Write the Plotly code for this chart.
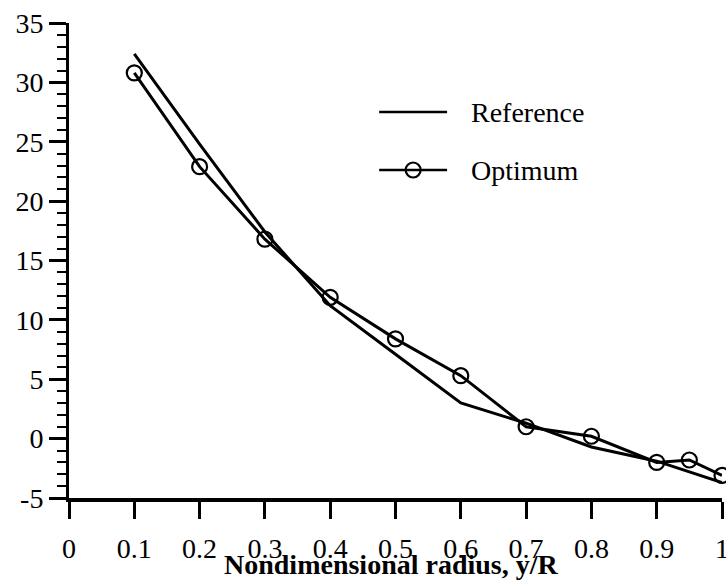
import plotly.graph_objects as go

# Data
x_reference = [0.1, 0.2, 0.3, 0.4, 0.5, 0.6, 0.7, 0.8, 0.9, 1.0]
y_reference = [32.4, 24.8, 17.4, 11.2, 7.1, 3.0, 1.3, -0.7, -1.9, -3.7]

x_optimum = [0.1, 0.2, 0.3, 0.4, 0.5, 0.6, 0.7, 0.8, 0.9, 0.95, 1.0]
y_optimum = [30.8, 22.9, 16.8, 11.9, 8.4, 5.3, 1.0, 0.2, -2.0, -1.8, -3.1]

x_ticks = [0, 0.1, 0.2, 0.3, 0.4, 0.5, 0.6, 0.7, 0.8, 0.9, 1.0]
x_tick_labels = ["0", "0.1", "0.2", "0.3", "0.4", "0.5", "0.6", "0.7", "0.8", "0.9", "1"]
y_ticks = [-5, 0, 5, 10, 15, 20, 25, 30, 35]
y_tick_labels = ["-5", "0", "5", "10", "15", "20", "25", "30", "35"]
x_title = "Nondimensional radius, y/R"

FONT = "Liberation Serif, Times New Roman, serif"

fig = go.Figure()
fig.add_trace(go.Scatter(
    x=x_reference, y=y_reference, mode="lines", name="Reference",
    line=dict(color="black", width=3), cliponaxis=False, showlegend=False))
fig.add_trace(go.Scatter(
    x=x_optimum, y=y_optimum, mode="lines+markers", name="Optimum",
    line=dict(color="black", width=3),
    marker=dict(symbol="circle-open", size=15, color="black", line=dict(width=2.2)),
    cliponaxis=False, showlegend=False))

# Manual legend (line samples + labels), in paper coordinates
legend_rows = [("Reference", 0.8126, False), ("Optimum", 0.6905, True)]
for label, yp, has_marker in legend_rows:
    fig.add_shape(type="line", xref="paper", yref="paper",
                  x0=0.475, x1=0.579, y0=yp, y1=yp,
                  line=dict(color="black", width=2.5))
    if has_marker:
        fig.add_trace(go.Scatter(
            x=[0.527], y=[yp], xaxis="x2", yaxis="y2", mode="markers",
            marker=dict(symbol="circle-open", size=15, color="black", line=dict(width=2.2)),
            showlegend=False, hoverinfo="skip", cliponaxis=False))
    fig.add_annotation(x=0.612, y=yp, xref="paper", yref="paper", text=label,
                       showarrow=False, xanchor="left", yanchor="middle",
                       font=dict(family=FONT, size=28, color="black"))

# X-axis title (placed as annotation for exact vertical position)
fig.add_annotation(x=0.494, y=-0.141, xref="paper", yref="paper",
                   text="<b>" + x_title + "</b>", showarrow=False,
                   xanchor="center", yanchor="middle",
                   font=dict(family=FONT, size=28, color="black"))

fig.update_layout(
    width=726, height=586,
    margin=dict(l=69, r=4, t=23, b=88, autoexpand=False),
    paper_bgcolor="white", plot_bgcolor="white",
    font=dict(family=FONT, size=28, color="black"),
    xaxis=dict(
        range=[0, 1.0], tickmode="array", tickvals=x_ticks, ticktext=x_tick_labels,
        showgrid=False, zeroline=False, showline=True, linecolor="black", linewidth=3.5,
        ticks="outside", ticklen=17, tickwidth=2.5, tickcolor="black",
        tickfont=dict(family=FONT, size=28), ticklabelstandoff=6,
        ticklabeloverflow="allow", automargin=True,
    ),
    yaxis=dict(
        range=[-5, 35], tickmode="array", tickvals=y_ticks, ticktext=y_tick_labels,
        showgrid=False, zeroline=False, showline=True, linecolor="black", linewidth=3,
        ticks="outside", ticklen=17, tickwidth=2.5, tickcolor="black",
        tickfont=dict(family=FONT, size=28), automargin=False,
        minor=dict(dtick=1, ticks="outside", ticklen=9, tickwidth=2, tickcolor="black", showgrid=False),
    ),
    xaxis2=dict(range=[0, 1], overlaying="x", visible=False, fixedrange=True),
    yaxis2=dict(range=[0, 1], overlaying="y", visible=False, fixedrange=True),
)

fig.write_html("out.html", config={"displayModeBar": False},
               post_script="document.body.style.margin='0';document.body.style.overflow='hidden';")
